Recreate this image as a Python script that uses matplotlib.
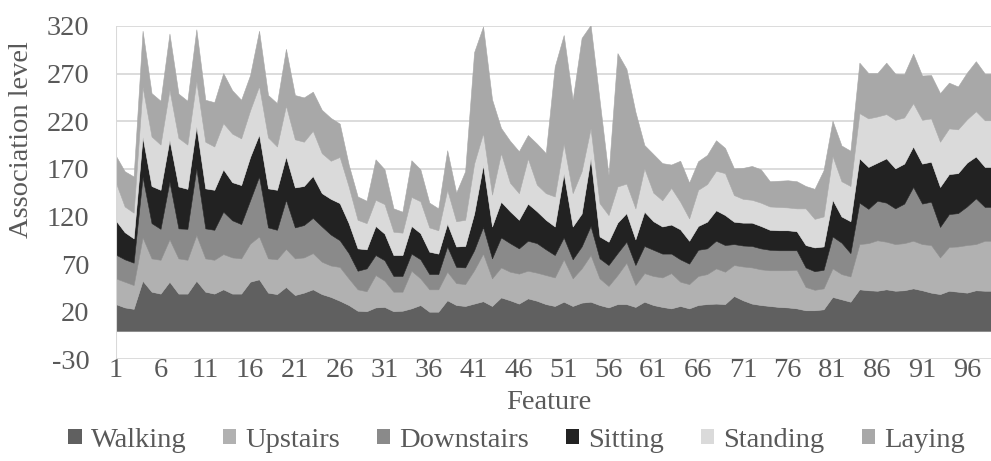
import numpy as np
import matplotlib
matplotlib.use("Agg")
import matplotlib.pyplot as plt
from matplotlib.patches import Patch

plt.rcParams['font.family'] = ['Liberation Serif', 'DejaVu Serif']
plt.rcParams['axes.unicode_minus'] = False

features = list(range(1, 100))
walking = [28, 24.5, 23, 52.5, 41, 39, 51.5, 39, 39, 52.5, 41, 39, 43.5, 39, 39, 51.5, 54, 40, 38.5, 46,
           37.5, 40, 43.5, 38.5, 35.5, 31.5, 27, 21, 20.5, 24.5, 25, 20.5, 21, 23.5, 27, 20, 20, 32, 27, 26,
           28.5, 31, 26, 35, 32, 28.5, 34, 31.5, 28, 26, 30.5, 26, 29.5, 30.5, 27, 24.5, 28, 28, 25, 30.5,
           27, 25, 23.5, 26, 23.5, 27, 28, 28.5, 28, 36.5, 32, 28.5, 27, 26, 25, 24.5, 23.5, 21.5, 21.5, 22.5,
           35.5, 33, 30.5, 43.5, 42.5, 42, 43.5, 42, 42.5, 44.5, 42.5, 40, 38.5, 42, 41, 40, 42.5, 42, 42]
upstairs = [27, 27, 25, 45.5, 35, 35.5, 44.5, 37, 35.5, 48, 35, 35.5, 37, 38, 37, 40, 45, 36, 36.5, 40,
            38.5, 37, 38, 34, 33, 35.5, 28, 22.5, 21, 34, 27.5, 20.5, 20, 39.5, 28, 23.5, 23.5, 30, 23, 23,
            35, 50, 29, 31.5, 30, 31.5, 29, 29.5, 30.5, 30, 44.5, 29, 36, 49, 28, 22.5, 30.5, 43.5, 23, 30,
            30.5, 31, 37, 25.5, 25.5, 30.5, 31.5, 37, 34, 32.5, 35.5, 38, 37.5, 37.5, 38.5, 39, 40.5, 24.5, 21.5, 22,
            30, 26.5, 26.5, 47.5, 49.5, 53, 50, 49, 49.5, 50, 48.5, 50, 38.5, 46, 47.5, 50, 48.5, 52.5, 52.5]
downstairs = [25, 23.5, 23.5, 63.5, 37, 32.5, 60.5, 31.5, 32.5, 70, 31.5, 31.5, 44.5, 39, 36, 45.5, 63, 32.5, 31, 51.5,
              32.5, 34, 37, 37, 32.5, 28, 26.5, 19.5, 24, 21, 21.5, 16.5, 16.5, 18, 20, 16, 16, 26.5, 17, 17.5,
              21, 28, 21, 31.5, 30, 26.5, 31.5, 31, 27, 23.5, 23, 20, 23, 30.5, 21, 22, 23, 22, 21, 28.5,
              27.5, 25, 20.5, 23.5, 21.5, 27.5, 27, 29, 28, 22, 22, 22.5, 22, 21.5, 21, 21, 20.5, 20.5, 19.5, 19.5,
              33.5, 33, 24.5, 43.5, 36, 41.5, 41, 37.5, 41.5, 56.5, 42.5, 45.5, 32, 34.5, 35, 40.5, 48, 35.5, 35.5]
sitting = [36, 28.5, 25.5, 42, 39, 41, 44, 44, 42, 44, 42, 42, 44.5, 40, 41, 45.5, 44, 41, 42, 45.5,
           42, 41, 44, 35, 37.5, 39, 31.5, 23.5, 20, 30.5, 28, 22, 22, 29, 27.5, 23.5, 21.5, 24, 21.5, 22.5,
           38.5, 65, 33.5, 37.5, 33.5, 30, 39, 33.5, 31, 30, 67, 34.5, 34.5, 71, 23, 24.5, 32, 30, 27, 36,
           30, 28.5, 30.5, 31.5, 24, 25, 28, 32, 31.5, 23.5, 24, 24.5, 23.5, 21, 21, 21, 20, 23.5, 25, 24.5,
           38.5, 27.5, 33.5, 46.5, 44, 40, 46.5, 42, 42, 42.5, 42, 42, 42, 42, 42, 46, 44, 42, 42]
standing = [40, 27, 27, 52.5, 52, 47.5, 52.5, 51, 46.5, 47.5, 49, 45.5, 48.5, 51, 49, 49, 51, 53.5, 45.5, 53.5,
            50.5, 46.5, 47.5, 42, 40, 48.5, 38.5, 30, 27.5, 27.5, 31, 24.5, 23.5, 30.5, 33.5, 25.5, 24.5, 35.5, 26.5, 27.5,
            52.5, 33.5, 33.5, 51, 30, 28, 47.5, 28, 28, 31.5, 31.5, 35, 44.5, 31.5, 35, 28, 38, 31, 32.5, 45.5,
            30, 27.5, 38.5, 29, 23.5, 38, 39.5, 41.5, 44, 28, 25, 24, 24.5, 24.5, 24.5, 24, 24, 38.5, 30, 31.5,
            46, 37, 37, 47.5, 51, 48.5, 46.5, 51, 48.5, 45.5, 46, 45.5, 47.5, 48, 46, 45.5, 47.5, 49, 49]
laying = [28, 37, 38, 59, 45.5, 46, 59, 46.5, 46, 54.5, 44, 46.5, 52.5, 45.5, 40.5, 37, 58, 44.5, 45.5, 59.5,
          46.5, 46.5, 41, 45.5, 45, 35, 23, 24.5, 23.5, 42.5, 36.5, 24.5, 22, 38.5, 33.5, 26, 23, 41.5, 30, 51,
          117, 112, 100, 26.5, 44, 44, 24.5, 43, 42, 136.5, 114, 98, 140, 108.5, 108.5, 42, 140, 120.5, 101.5, 24.5,
          40.5, 39, 24.5, 43, 37.5, 30, 30.5, 32, 26.5, 28, 32.5, 35.5, 35, 26.5, 27.5, 28.5, 28.5, 23.5, 31.5, 48.5,
          37, 37.5, 37, 53, 47.5, 45.5, 54, 48.5, 45.5, 52, 46.5, 45.5, 51, 48, 45, 49, 52.5, 49, 49]
series_names = ["Walking", "Upstairs", "Downstairs", "Sitting", "Standing", "Laying"]
series_colors = ["#606060", "#b1b1b1", "#8a8a8a", "#222222", "#dadada", "#a8a8a8"]
y_ticks = [-30, 20, 70, 120, 170, 220, 270, 320]
x_ticks = list(range(1, 100, 5))

text_color = "#595959"
grid_color = "#d9d9d9"
fs = 20.5

fig = plt.figure(figsize=(9.91, 4.61), dpi=100)
W, H = 991, 461
ax = fig.add_axes([115.7 / W, (H - 359.3) / H, (W - 115.7) / W, 333.3 / H])

ax.stackplot(features, walking, upstairs, downstairs, sitting, standing, laying,
             colors=series_colors, linewidth=0.4, edgecolor='face', zorder=2)

ax.set_xlim(1, 1 + (W - 115.7) / 8.96)
ax.set_ylim(-30, 320)
ax.set_yticks(y_ticks)
ax.set_xticks(x_ticks)
ax.grid(axis='y', color=grid_color, linewidth=1.3, zorder=0)
ax.set_axisbelow(True)
for s in ax.spines.values():
    s.set_visible(False)
ax.axhline(0, color=grid_color, linewidth=1.5, zorder=1)
ax.axvline(1, color=grid_color, linewidth=1.5, zorder=3)
ax.tick_params(axis='both', length=0, labelsize=fs, labelcolor=text_color)
ax.tick_params(axis='y', pad=19)
ax.tick_params(axis='x', pad=-1)

fig.text(549 / W, 1 - 402 / H, "Feature", ha='center', va='center', fontsize=fs, color=text_color)
fig.text(22 / W, 1 - 140 / H, "Association level", ha='center', va='center', rotation=90,
         fontsize=fs, color=text_color)

handles = [Patch(facecolor=c, edgecolor='none') for c in series_colors]
fig.legend(handles, series_names, loc='center', bbox_to_anchor=(516.5 / W, 1 - 440 / H),
           ncol=6, frameon=False, fontsize=fs, labelcolor=text_color,
           handlelength=0.46, handleheight=0.46, handletextpad=0.32, columnspacing=1.3,
           borderaxespad=0, borderpad=0)

fig.savefig("out.png", dpi=100)
